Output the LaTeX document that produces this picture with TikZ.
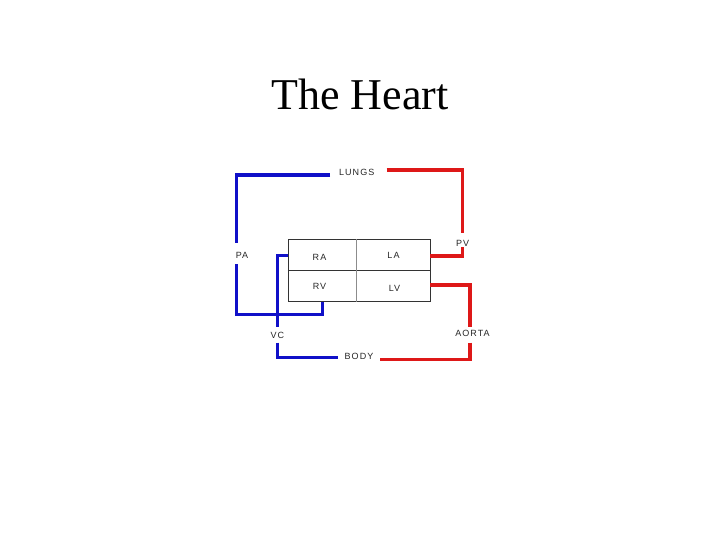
\documentclass[tikz,border=0pt]{standalone}
\usepackage{fontspec}
\setmainfont{Liberation Serif}
\newfontfamily\lblfont[LetterSpace=12]{Liberation Sans}
\definecolor{artblue}{RGB}{16,16,200}
\definecolor{artred}{RGB}{222,24,24}
\begin{document}
\begin{tikzpicture}[x=1pt,y=-1pt,
  lbl/.style={font=\lblfont\fontsize{9}{10}\selectfont, text=black!85, inner sep=0pt},
  vessel/.style={line width=3.2pt, line cap=butt, line join=miter},
  bluev/.style={vessel, draw=artblue},
  redv/.style={vessel, draw=artred},
  cell/.style={draw=black!80, line width=0.8pt, minimum width=142pt, minimum height=62.4pt, inner sep=0pt}]
\useasboundingbox (0,0) rectangle (720,540);
% title
\node[font=\fontsize{44}{50}\selectfont, anchor=base] (title) at (360,109.5) {The Heart};
% heart box
\node[cell] (heart) at (359.3,270.5) {};
\draw[black!80, line width=0.8pt] (heart.west) -- (heart.east);
\draw[black!45, line width=1pt] (356,239.3) -- (356,301.7);
\node[lbl] (RA) at (319.5,257.5) {RA};
\node[lbl] (LA) at (393.5,255.5) {LA};
\node[lbl] (RV) at (319.5,286.5) {RV};
\node[lbl] (LV) at (394.5,288.5) {LV};
% labels
\node[lbl] (LUNGS) at (356.7,172.7) {LUNGS};
\node[lbl] (PA) at (242,255.3) {PA};
\node[lbl] (PV) at (462.7,243.3) {PV};
\node[lbl] (VC) at (277.3,335.3) {VC};
\node[lbl] (AORTA) at (472.5,333.5) {AORTA};
\node[lbl] (BODY) at (359,356.7) {BODY};
% coordinates
\coordinate (lungsL) at (330,175);
\coordinate (lungsR) at (386.7,170);
\coordinate (paTop) at (236.7,243.3);
\coordinate (paBot) at (236.7,264);
\coordinate (rvOut) at (322.7,301.7);
\coordinate (raIn) at (288.3,255.3);
\coordinate (vcTop) at (277.3,326.7);
\coordinate (vcBot) at (277.3,342.7);
\coordinate (bodyL) at (338.3,357.3);
\coordinate (bodyR) at (380,359.3);
\coordinate (pvTop) at (462.7,232.7);
\coordinate (pvBot) at (462.7,247.3);
\coordinate (laIn) at (430.3,256);
\coordinate (lvOut) at (430.3,285);
\coordinate (aoTop) at (470,326.7);
\coordinate (aoBot) at (470,342.7);
% blue vessels
\draw[bluev] (lungsL) -| (paTop);
\draw[bluev] (paBot) |- (rvOut |- 0,314.3) -- (rvOut);
\draw[bluev] (raIn) -| (vcTop);
\draw[bluev] (vcBot) |- (bodyL);
% red vessels
\draw[redv] (lungsR) -| (pvTop);
\draw[redv] (pvBot) |- (laIn);
\draw[redv] (lvOut) -| (aoTop);
\draw[redv] (aoBot) |- (bodyR);
\end{tikzpicture}
\end{document}
